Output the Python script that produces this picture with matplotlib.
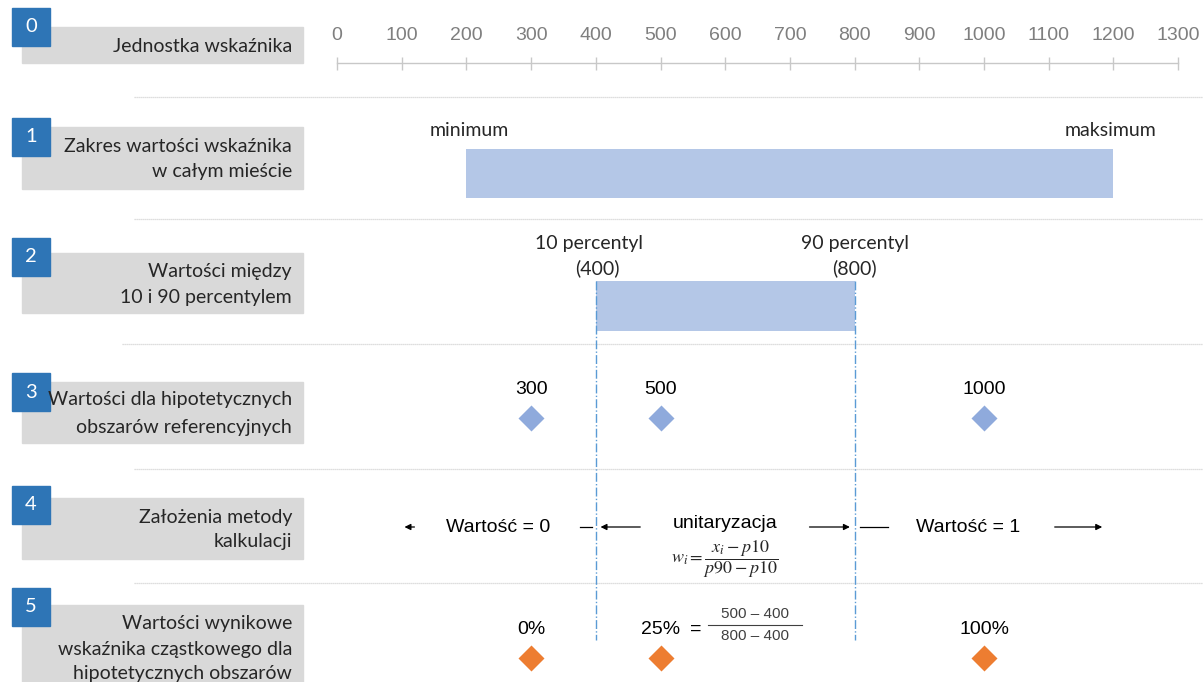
import matplotlib
matplotlib.use('Agg')
import matplotlib.pyplot as plt
from matplotlib.patches import Rectangle

plt.rcParams['mathtext.fontset'] = 'stix'

# --- data ---
row_labels = [
    'Jednostka wskaźnika',
    'Zakres wartości wskaźnika\nw całym mieście',
    'Wartości między\n10 i 90 percentylem',
    'Wartości dla hipotetycznych\nobszarów referencyjnych',
    'Założenia metody\nkalkulacji',
    'Wartości wynikowe\nwskaźnika cząstkowego dla\nhipotetycznych obszarów',
]
scale_ticks = [0, 100, 200, 300, 400, 500, 600, 700, 800, 900, 1000, 1100, 1200, 1300]
city_min, city_max = 200, 1200
p10, p90 = 400, 800
ref_values = [300, 500, 1000]
result_pct = [0, 25, 100]

# --- layout (pixels, y from top) ---
W, H = 1203, 682
num_tops = [8, 118, 238, 373, 486, 588]
gray_boxes = [(27, 63), (127, 189), (253, 313), (382, 443), (498, 559), (605, 690)]
label_lines = [[46], [146, 172], [272, 298], [400, 427], [517, 542], [623, 649, 673]]
separators = [(97, 134), (219, 134), (344, 122), (469, 134), (583, 134)]

bar_blue = '#B4C7E7'
dia_blue = '#8FAADC'
dia_orange = '#ED7D31'
num_blue = '#2E75B6'
line_blue = '#5B9BD5'

lab_font = 'Lato'
arial = 'Liberation Sans'
txt = '#262626'

fig = plt.figure(figsize=(W / 100, H / 100), dpi=100)
bg = fig.add_axes([0, 0, 1, 1])
bg.set_xlim(0, W)
bg.set_ylim(H, 0)
bg.axis('off')

# value axis: value 0 at x=337 px, 0.647 px per unit
x0 = 337
k = 0.647
ax = fig.add_axes([0, 0, 1, 1])
ax.set_xlim(-x0 / k, (W - x0) / k)
ax.set_ylim(H, 0)
ax.axis('off')
ax.patch.set_alpha(0)

# left panel
for i, lab in enumerate(row_labels):
    top, bot = gray_boxes[i]
    bg.add_patch(Rectangle((22, top), 281, bot - top, color='#D9D9D9', zorder=1))
    bg.add_patch(Rectangle((12, num_tops[i]), 38, 38, color=num_blue, zorder=2))
    bg.text(31, num_tops[i] + 19, str(i), color='white', fontsize=14.5,
            family=lab_font, ha='center', va='center', zorder=3)
    for line, y in zip(lab.split('\n'), label_lines[i]):
        bg.text(292, y, line, fontsize=14, family=lab_font, color=txt,
                ha='right', va='center', zorder=3)

for y, xs in separators:
    bg.plot([xs, W], [y, y], color='#D4D4D4', lw=0.9, ls=(0, (1, 0.6)), zorder=1)

# row 0: scale
ax.plot([scale_ticks[0], scale_ticks[-1]], [63, 63], color='#C8C8C8', lw=1)
ax.vlines(scale_ticks, 57, 70, color='#C8C8C8', lw=1)
for t in scale_ticks:
    ax.text(t, 36, str(t), fontsize=14, family=['Liberation Sans Narrow', arial],
            color='#7F7F7F', ha='center', va='center')

# row 1: full range
ax.barh(173.5, city_max - city_min, left=city_min, height=49, color=bar_blue)
ax.text(city_min + 5, 130, 'minimum', fontsize=14, family=lab_font, color=txt,
        ha='center', va='center')
ax.text(city_max - 5, 130, 'maksimum', fontsize=14, family=lab_font, color=txt,
        ha='center', va='center')

# row 2: percentile range
ax.barh(306, p90 - p10, left=p10, height=50, color=bar_blue)
ax.text(p10 - 10, 243, '10 percentyl', fontsize=14, family=lab_font, color=txt,
        ha='center', va='center')
ax.text(p10 + 3, 268, '(%d)' % p10, fontsize=14, family=lab_font, color=txt,
        ha='center', va='center')
ax.text(p90, 243, '90 percentyl', fontsize=14, family=lab_font, color=txt,
        ha='center', va='center')
ax.text(p90, 268, '(%d)' % p90, fontsize=14, family=lab_font, color=txt,
        ha='center', va='center')
ax.vlines([p10, p90], 281, 640, color=line_blue, lw=1, ls='-.')

# row 3: reference values
ax.plot(ref_values, [418] * len(ref_values), ls='none', marker='D', ms=13.5,
        color=dia_blue, mec='none')
for v in ref_values:
    ax.text(v, 389, str(v), fontsize=14, family=arial, color='black',
            ha='center', va='center')

# row 4: method
arrow = dict(arrowstyle='-|>', color='black', lw=0.9, mutation_scale=9)
ax.annotate('', xy=(100, 527), xytext=(124, 527), arrowprops=arrow)
ax.annotate('', xy=(p10 + 3, 527), xytext=(473, 527), arrowprops=arrow)
ax.annotate('', xy=(p90 - 3, 527), xytext=(726, 527), arrowprops=arrow)
ax.annotate('', xy=(1187, 527), xytext=(1105, 527), arrowprops=arrow)
ax.plot([375, 394], [527, 527], color='black', lw=0.9)
ax.plot([808, 851], [527, 527], color='black', lw=0.9)
ax.text(249, 528, 'Wartość = 0', fontsize=14, family=arial, ha='center', va='center')
ax.text(975, 528, 'Wartość = 1', fontsize=14, family=arial, ha='center', va='center')
mid = (p10 + p90) / 2
ax.text(mid, 523, 'unitaryzacja', fontsize=14, family=arial, ha='center', va='center')
ax.text(mid, 559, r'$w_i = \dfrac{x_i - p10}{p90 - p10}$', fontsize=13,
        color=txt, ha='center', va='center')

# row 5: results
ax.plot(ref_values, [658] * len(ref_values), ls='none', marker='D', ms=13.5,
        color=dia_orange, mec='none')
for v, p in zip(ref_values, result_pct):
    ax.text(v, 629, '%d%%' % p, fontsize=14, family=arial, color='black',
            ha='center', va='center')
ax.text(555, 629, '=', fontsize=14, family=arial, ha='center', va='center')
fc = 646
ax.text(fc, 614, '%d – %d' % (ref_values[1], p10), fontsize=11, family=arial,
        color='#404040', ha='center', va='center')
ax.text(fc, 636, '%d – %d' % (p90, p10), fontsize=11, family=arial,
        color='#404040', ha='center', va='center')
ax.plot([fc - 73, fc + 73], [625, 625], color='#404040', lw=0.8)

fig.savefig('out.png', dpi=100)
